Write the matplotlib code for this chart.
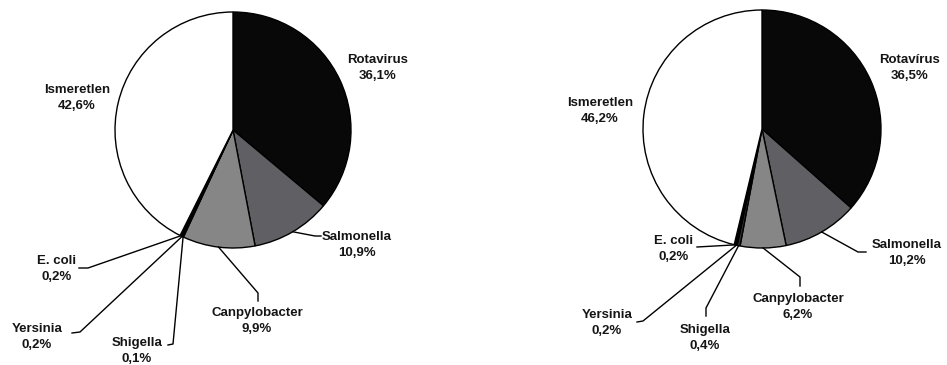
import matplotlib.pyplot as plt
import numpy as np

plt.rcParams['font.family'] = ['Liberation Sans', 'DejaVu Sans']

# data, clockwise from 12 o'clock
labels_left = ['Rotavirus', 'Salmonella', 'Canpylobacter', 'Shigella', 'Yersinia', 'E. coli', 'Ismeretlen']
labels_right = ['Rotavírus', 'Salmonella', 'Canpylobacter', 'Shigella', 'Yersinia', 'E. coli', 'Ismeretlen']
values_left = [36.1, 10.9, 9.9, 0.1, 0.2, 0.2, 42.6]
values_right = [36.5, 10.2, 6.2, 0.4, 0.2, 0.2, 46.2]

colors = ['#080808', '#606064', '#868686', '#303030', '#202020', '#404040', '#ffffff']

W, H = 947, 365

# layout in pixel coords (y from top): label centre, leader elbow, leader end
left_layout = {
    'center': (233, 130), 'radius': 118,
    'text': [(378, 68), (357, 245), (257, 321), (137, 351), (37, 337), (57, 269), (77, 98)],
    'elbow': [None, (315, 236), (258, 293), (173, 344), (80, 332), (88, 268), None],
    'end': [None, (321, 236), (258, 301), (168, 345), (72, 333), (79, 268), None],
}
right_layout = {
    'center': (762, 129), 'radius': 119,
    'text': [(910, 68), (907, 253), (798, 307), (705, 338), (607, 323), (674, 249), (600, 111)],
    'elbow': [None, (858, 252), (800, 277), (706, 308), (643, 321), (697, 247), None],
    'end': [None, (866, 252), (800, 286), (706, 316), (637, 322), (697, 247), None],
}

fig = plt.figure(figsize=(W / 100, H / 100), dpi=100)
ax = fig.add_axes([0, 0, 1, 1])


def fmt(v):
    return ('%.1f%%' % v).replace('.', ',')


def draw(values, names, lay):
    cx, cy = lay['center']
    r = lay['radius']
    wedges, _ = ax.pie(values, colors=colors, startangle=90, counterclock=False,
                       center=(cx, H - cy), radius=r,
                       wedgeprops=dict(edgecolor='black', linewidth=1.0))
    for i, w in enumerate(wedges):
        tx, ty = lay['text'][i]
        ax.text(tx, H - ty, names[i] + '\n' + fmt(values[i]), ha='center', va='center',
                fontsize=9.5, fontweight='bold', color='#151515', linespacing=1.35)
        if lay['elbow'][i] is None:
            continue
        mid = np.deg2rad((w.theta1 + w.theta2) / 2)
        sx = cx + r * np.cos(mid)
        sy = (H - cy) + r * np.sin(mid)
        ex, ey = lay['elbow'][i]
        nx, ny = lay['end'][i]
        ax.plot([sx, ex, nx], [sy, H - ey, H - ny], color='black', lw=1.0)


draw(values_left, labels_left, left_layout)
draw(values_right, labels_right, right_layout)

ax.set_xlim(0, W)
ax.set_ylim(0, H)
ax.set_aspect('equal')
ax.axis('off')

plt.savefig('out.png', dpi=100)
